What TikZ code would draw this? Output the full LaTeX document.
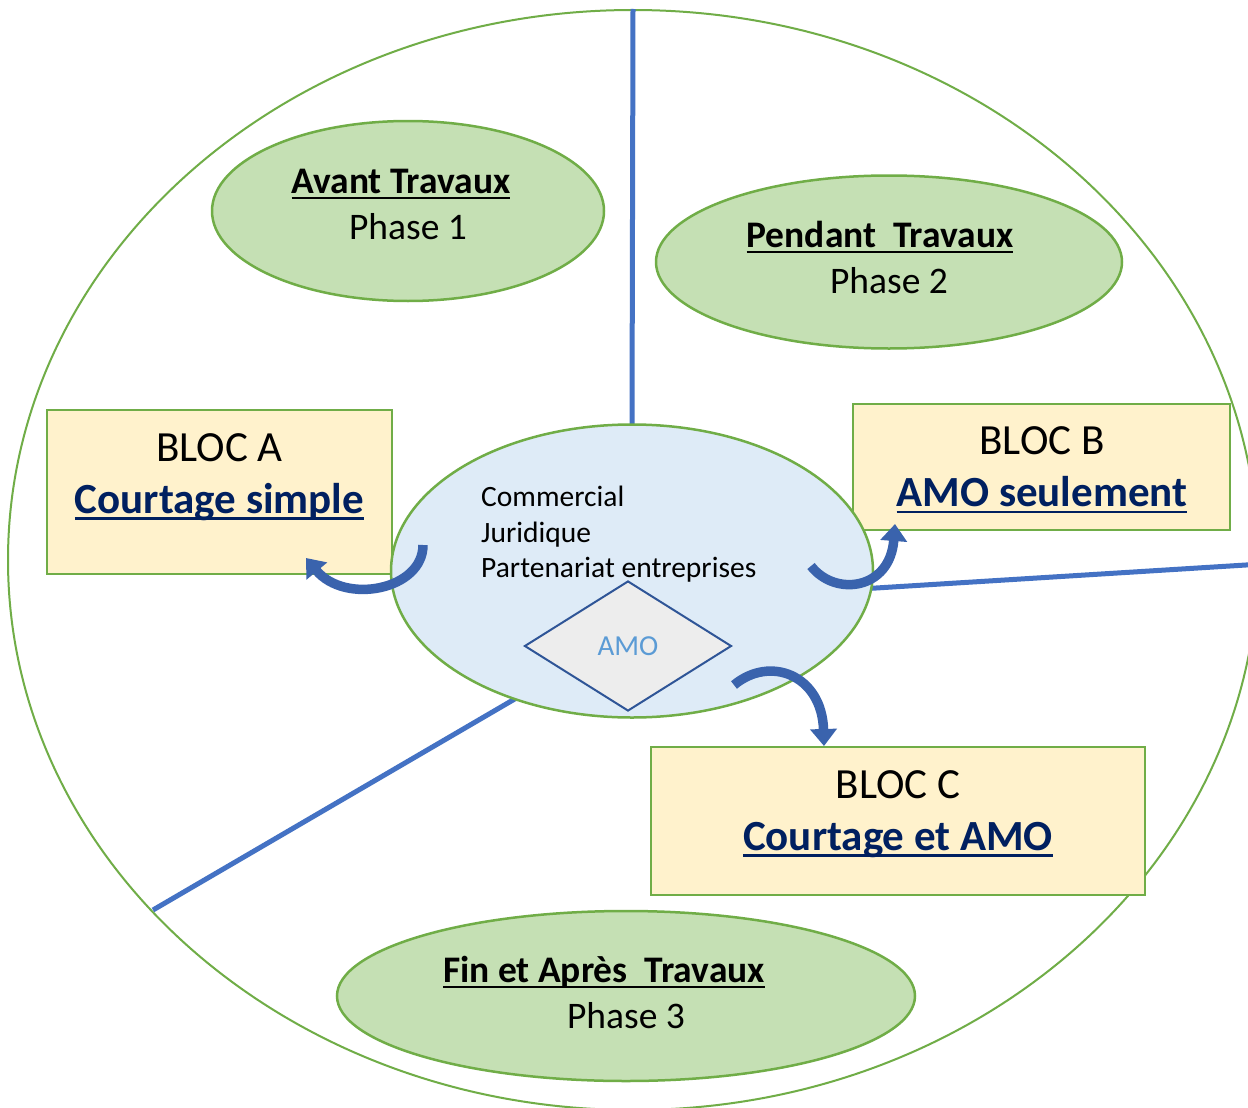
\documentclass[tikz,border=0pt]{standalone}
\usepackage{fontspec}
\setmainfont{Carlito}
\usetikzlibrary{shapes.geometric,arrows.meta}
\definecolor{greenline}{HTML}{70AD47}
\definecolor{phasefill}{HTML}{C5E0B4}
\definecolor{midfill}{HTML}{DEEBF7}
\definecolor{blocfill}{HTML}{FFF2CC}
\definecolor{sepblue}{HTML}{4472C4}
\definecolor{diaborder}{HTML}{2F5597}
\definecolor{diafill}{HTML}{EDEDED}
\definecolor{amotext}{HTML}{5B9BD5}
\definecolor{blocdark}{HTML}{002060}
\definecolor{arrowblue}{HTML}{3A63AD}
\newsavebox{\myulbox}
\newcommand\ulphase[1]{\sbox{\myulbox}{\textbf{#1}}\rlap{\rule[-5.5pt]{\wd\myulbox}{2pt}}\usebox{\myulbox}}
\newcommand\ulbloc[1]{\sbox{\myulbox}{\color{blocdark}\textbf{#1}}{\color{blocdark}\rlap{\rule[-6.5pt]{\wd\myulbox}{2.6pt}}}\usebox{\myulbox}}
\begin{document}
\begin{tikzpicture}[x=1pt,y=-1pt,
  phase/.style={ellipse, draw=greenline, line width=2.5pt, fill=phasefill, inner sep=0pt},
  phasetxt/.style={align=center, inner sep=0pt, font=\fontsize{37.5}{46}\selectfont},
  bloc/.style={rectangle, draw=greenline, line width=2.5pt, fill=blocfill, inner sep=0pt},
  bloctxt/.style={align=center, font=\fontsize{43}{52}\selectfont, inner sep=0pt},
  sep/.style={draw=sepblue, line width=5pt},
  carrow/.style={draw=arrowblue, line width=9.5pt, -{Triangle[width=26pt,length=17pt]}}]
\clip (0,0) rectangle (1248,1108);
\fill[white] (0,0) rectangle (1248,1108);
\node[ellipse, draw=greenline, line width=2pt, minimum width=1250pt, minimum height=1100pt, inner sep=0pt] (big) at (633,560) {};
% separators
\coordinate (r1) at (860,589);
\coordinate (r2) at (1262,564);
\coordinate (l1) at (525,693);
\coordinate (l2) at (153,910);
\node[ellipse, minimum width=482pt, minimum height=293pt, inner sep=0pt] (midref) at (632,571) {};
\draw[sep] (big.north) -- (midref.north);
\draw[sep] (r1) -- (r2);
\draw[sep] (l1) -- (l2);
% phases
\node[phase, minimum width=392pt, minimum height=180pt] (p1) at (408,211) {};
\node[phasetxt] (p1t) at (408,204) {\ulphase{Avant Travaux}\hspace*{14pt}\\Phase 1};
\node[phase, minimum width=466pt, minimum height=173pt] (p2) at (889,262) {};
\node[phasetxt] (p2t) at (889,257) {\ulphase{Pendant\hspace{17pt}Travaux}\hspace*{18pt}\\Phase 2};
\node[phase, minimum width=578pt, minimum height=170pt] (p3) at (626,996) {};
\node[phasetxt] (p3t) at (626,992) {\ulphase{Fin et Après\hspace{17pt}Travaux}\hspace*{44pt}\\Phase 3};
% blocs
\node[bloc, minimum width=345pt, minimum height=164pt] (ba) at (219.5,492) {};
\node[bloctxt] (ta) at (219.5,477) {BLOC A\\\ulbloc{Courtage simple}};
\node[bloc, minimum width=377pt, minimum height=126pt] (bb) at (1041.5,467) {};
\node[bloctxt] (tb) at (1042,470) {BLOC B\\\ulbloc{AMO seulement}};
\node[bloc, minimum width=494pt, minimum height=148pt] (bc) at (898,821) {};
\node[bloctxt] (tc) at (898,814) {BLOC C\\\ulbloc{Courtage et AMO}};
% centre
\node[ellipse, draw=greenline, line width=2.5pt, fill=midfill, minimum width=482pt, minimum height=293pt, inner sep=0pt] (mid) at (632,571) {};
\node[anchor=north west, align=left, font=\fontsize{29.5}{35.5}\selectfont, inner sep=0pt] (midtxt) at (481,486) {Commercial\\Juridique\\Partenariat entreprises};
\node[diamond, aspect=1.6, draw=diaborder, line width=2pt, fill=diafill, minimum width=207pt, minimum height=130pt, inner sep=0pt, font=\fontsize{29}{34}\selectfont, text=amotext] (amo) at (628,646) {AMO};
% curved arrows
\coordinate (a1s) at (423,545);
\coordinate (a1e) at (306,558);
\coordinate (a2s) at (811,566);
\coordinate (a2e) at (895,524);
\coordinate (a3s) at (734,685);
\coordinate (a3e) at (824,746);
\draw[carrow] (a1s) .. controls (423,590) and (345,605) .. (a1e);
\draw[carrow] (a2s) .. controls (835,597) and (890,590) .. (a2e);
\draw[carrow] (a3s) .. controls (770,655) and (822,675) .. (a3e);
\end{tikzpicture}
\end{document}
